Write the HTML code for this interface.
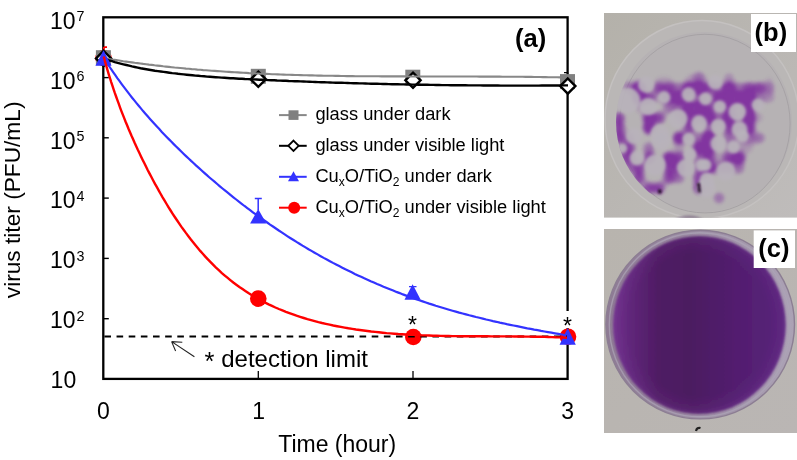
<!DOCTYPE html>
<html><head><meta charset="utf-8"><title>virus titer</title><style>
html,body{margin:0;padding:0;background:#fff;width:797px;height:460px;overflow:hidden}
svg{display:block;position:absolute;left:0;top:0;will-change:transform}
text{font-family:"Liberation Sans",sans-serif}
</style></head><body>
<svg width="797" height="460" viewBox="0 0 797 460">
<rect x="103.3" y="17.3" width="464.3" height="361.6" fill="none" stroke="#000" stroke-width="2.3"/>
<line x1="103" y1="77.6" x2="108.8" y2="77.6" stroke="#000" stroke-width="1.4"/>
<line x1="103" y1="137.8" x2="108.8" y2="137.8" stroke="#000" stroke-width="1.4"/>
<line x1="103" y1="198.1" x2="108.8" y2="198.1" stroke="#000" stroke-width="1.4"/>
<line x1="103" y1="258.4" x2="108.8" y2="258.4" stroke="#000" stroke-width="1.4"/>
<line x1="103" y1="318.7" x2="108.8" y2="318.7" stroke="#000" stroke-width="1.4"/>
<line x1="258.3" y1="379" x2="258.3" y2="371" stroke="#000" stroke-width="1.3"/>
<line x1="413.0" y1="379" x2="413.0" y2="371" stroke="#000" stroke-width="1.3"/>
<path d="M103.8,56 V47 M103.8,47.2 H107" stroke="#ff0000" stroke-width="1.8" fill="none"/>
<path d="M258.2,210 V198.4 M254.8,198.4 H261.8" stroke="#3333ff" stroke-width="1.5" fill="none"/>
<path d="M412.7,286 V286.7 M409,286.7 H416.5" stroke="#3333ff" stroke-width="1.3" fill="none"/>
<path d="M567.6,78 V72.6 M564,72.6 H567.6" stroke="#000" stroke-width="1.3" fill="none"/>
<circle cx="103.5" cy="58.0" r="8.3" fill="#ff0000"/>
<circle cx="258.3" cy="298.6" r="8.3" fill="#ff0000"/>
<circle cx="413.3" cy="337.0" r="8.3" fill="#ff0000"/>
<circle cx="568.0" cy="336.7" r="8.3" fill="#ff0000"/>
<rect x="95.9" y="50.2" width="15" height="15" fill="#808080"/>
<rect x="250.8" y="68.8" width="15" height="15" fill="#808080"/>
<rect x="405.3" y="69.7" width="15" height="15" fill="#808080"/>
<rect x="560.0" y="74.1" width="15" height="15" fill="#808080"/>
<polygon points="103.6,50.8 111.19999999999999,58.4 103.6,66.0 96.0,58.4" fill="#fff" stroke="#000" stroke-width="2.4"/>
<polygon points="258.3,71.7 265.90000000000003,79.3 258.3,86.89999999999999 250.70000000000002,79.3" fill="#fff" stroke="#000" stroke-width="2.4"/>
<polygon points="413.0,72.7 420.6,80.3 413.0,87.89999999999999 405.4,80.3" fill="#fff" stroke="#000" stroke-width="2.4"/>
<polygon points="567.8,78.5 575.4,86.1 567.8,93.69999999999999 560.1999999999999,86.1" fill="#fff" stroke="#000" stroke-width="2.4"/>
<path d="M103.5,58.1 L106.3,58.5 L109.1,59.0 L112.0,59.5 L114.8,59.9 L117.6,60.3 L120.5,60.7 L123.3,61.2 L126.2,61.6 L129.0,62.0 L131.8,62.4 L134.7,62.8 L137.5,63.1 L140.4,63.5 L143.2,63.9 L146.1,64.2 L148.9,64.6 L151.8,64.9 L154.6,65.3 L157.4,65.6 L160.3,65.9 L163.2,66.3 L166.0,66.6 L168.9,66.9 L171.7,67.2 L174.6,67.5 L177.4,67.7 L180.3,68.0 L183.1,68.3 L186.0,68.6 L188.8,68.8 L191.7,69.1 L194.6,69.3 L197.4,69.6 L200.3,69.8 L203.2,70.1 L206.0,70.3 L208.9,70.5 L211.7,70.7 L214.6,70.9 L217.5,71.1 L220.3,71.3 L223.2,71.5 L226.1,71.7 L228.9,71.9 L231.8,72.1 L234.7,72.3 L237.5,72.4 L240.4,72.6 L243.3,72.8 L246.2,72.9 L249.0,73.1 L251.9,73.2 L254.8,73.4 L257.6,73.5 L260.5,73.7 L263.4,73.8 L266.3,73.9 L269.1,74.0 L272.0,74.2 L274.9,74.3 L277.8,74.4 L280.7,74.5 L283.5,74.6 L286.4,74.7 L289.3,74.8 L292.2,74.9 L295.0,75.0 L297.9,75.0 L300.8,75.1 L303.7,75.2 L306.6,75.3 L309.4,75.4 L312.3,75.4 L315.2,75.5 L318.1,75.6 L321.0,75.6 L323.8,75.7 L326.7,75.7 L329.6,75.8 L332.5,75.8 L335.4,75.9 L338.3,75.9 L341.1,76.0 L344.0,76.0 L346.9,76.1 L349.8,76.1 L352.7,76.1 L355.6,76.2 L358.4,76.2 L361.3,76.2 L364.2,76.2 L367.1,76.3 L370.0,76.3 L372.9,76.3 L375.8,76.3 L378.6,76.3 L381.5,76.4 L384.4,76.4 L387.3,76.4 L390.2,76.4 L393.1,76.4 L395.9,76.4 L398.8,76.4 L401.7,76.4 L404.6,76.4 L407.5,76.5 L410.4,76.5 L413.3,76.5 L416.1,76.5 L419.0,76.5 L421.9,76.5 L424.8,76.5 L427.7,76.5 L430.6,76.5 L433.4,76.5 L436.3,76.5 L439.2,76.5 L442.1,76.5 L445.0,76.5 L447.9,76.5 L450.7,76.5 L453.6,76.5 L456.5,76.5 L459.4,76.5 L462.3,76.5 L465.1,76.5 L468.0,76.5 L470.9,76.5 L473.8,76.5 L476.7,76.5 L479.5,76.6 L482.4,76.6 L485.3,76.6 L488.2,76.6 L491.1,76.6 L493.9,76.6 L496.8,76.6 L499.7,76.6 L502.6,76.7 L505.4,76.7 L508.3,76.7 L511.2,76.7 L514.1,76.7 L516.9,76.8 L519.8,76.8 L522.7,76.8 L525.6,76.9 L528.4,76.9 L531.3,76.9 L534.2,77.0 L537.1,77.0 L539.9,77.0 L542.8,77.1 L545.7,77.1 L548.5,77.2 L551.4,77.2 L554.3,77.3 L557.1,77.3 L560.0,77.4" fill="none" stroke="#888" stroke-width="2.1"/>
<path d="M103.4,58.6 L106.3,59.5 L109.1,60.4 L112.0,61.2 L114.8,62.1 L117.7,62.9 L120.5,63.6 L123.4,64.3 L126.3,65.0 L129.1,65.7 L132.0,66.4 L134.8,67.0 L137.7,67.6 L140.6,68.2 L143.4,68.7 L146.3,69.2 L149.2,69.7 L152.1,70.2 L154.9,70.7 L157.8,71.1 L160.7,71.5 L163.6,71.9 L166.5,72.3 L169.4,72.7 L172.2,73.1 L175.1,73.4 L178.0,73.8 L180.9,74.1 L183.8,74.4 L186.7,74.7 L189.6,75.0 L192.5,75.3 L195.4,75.6 L198.3,75.8 L201.2,76.1 L204.1,76.3 L207.0,76.6 L209.9,76.8 L212.8,77.0 L215.7,77.2 L218.6,77.4 L221.6,77.6 L224.5,77.8 L227.4,78.0 L230.3,78.2 L233.2,78.3 L236.1,78.5 L239.1,78.7 L242.0,78.8 L244.9,79.0 L247.8,79.1 L250.7,79.3 L253.7,79.4 L256.6,79.5 L259.5,79.7 L262.4,79.8 L265.4,79.9 L268.3,80.1 L271.2,80.2 L274.2,80.3 L277.1,80.5 L280.0,80.6 L283.0,80.7 L285.9,80.8 L288.8,81.0 L291.8,81.1 L294.7,81.2 L297.6,81.3 L300.6,81.4 L303.5,81.5 L306.5,81.6 L309.4,81.7 L312.3,81.9 L315.3,82.0 L318.2,82.1 L321.2,82.2 L324.1,82.3 L327.1,82.4 L330.0,82.5 L332.9,82.6 L335.9,82.7 L338.8,82.8 L341.8,82.8 L344.7,82.9 L347.7,83.0 L350.6,83.1 L353.6,83.2 L356.5,83.3 L359.5,83.4 L362.4,83.4 L365.4,83.5 L368.3,83.6 L371.2,83.7 L374.2,83.8 L377.1,83.8 L380.1,83.9 L383.0,84.0 L386.0,84.0 L388.9,84.1 L391.9,84.2 L394.8,84.2 L397.8,84.3 L400.7,84.4 L403.7,84.4 L406.6,84.5 L409.6,84.5 L412.5,84.6 L415.5,84.6 L418.4,84.7 L421.4,84.7 L424.3,84.8 L427.3,84.8 L430.2,84.9 L433.2,84.9 L436.1,85.0 L439.1,85.0 L442.0,85.1 L444.9,85.1 L447.9,85.1 L450.8,85.2 L453.8,85.2 L456.7,85.2 L459.7,85.3 L462.6,85.3 L465.5,85.3 L468.5,85.4 L471.4,85.4 L474.4,85.4 L477.3,85.4 L480.2,85.4 L483.2,85.5 L486.1,85.5 L489.1,85.5 L492.0,85.5 L494.9,85.5 L497.9,85.5 L500.8,85.6 L503.7,85.6 L506.7,85.6 L509.6,85.6 L512.5,85.6 L515.4,85.6 L518.4,85.6 L521.3,85.6 L524.2,85.6 L527.2,85.6 L530.1,85.6 L533.0,85.6 L535.9,85.6 L538.8,85.6 L541.8,85.5 L544.7,85.5 L547.6,85.5 L550.5,85.5 L553.4,85.5 L556.4,85.5 L559.3,85.5 L562.2,85.4 L565.1,85.4 L568.0,85.4" fill="none" stroke="#000" stroke-width="2.4"/>
<polygon points="103.5,50.2 111.6,65.8 95.4,65.8" fill="#3333ff" />
<polygon points="258.2,209 266.3,223.5 250.1,223.5" fill="#3333ff" />
<polygon points="412.6,284.3 420.70000000000005,299.7 404.5,299.7" fill="#3333ff" />
<polygon points="567.7,328 575.8000000000001,344.7 559.6,344.7" fill="#3333ff" />
<line x1="104.4" y1="336.5" x2="567" y2="336.5" stroke="#000" stroke-width="2" stroke-dasharray="6.6 5.55"/>
<path d="M103.4,57.5 L105.4,60.5 L107.3,63.5 L109.3,66.5 L111.3,69.4 L113.3,72.3 L115.3,75.2 L117.3,78.1 L119.4,80.9 L121.5,83.8 L123.6,86.6 L125.7,89.4 L127.8,92.2 L129.9,94.9 L132.1,97.7 L134.3,100.4 L136.5,103.1 L138.7,105.8 L140.9,108.4 L143.1,111.1 L145.4,113.7 L147.7,116.3 L150.0,118.9 L152.3,121.5 L154.6,124.1 L156.9,126.6 L159.3,129.1 L161.6,131.7 L164.0,134.2 L166.4,136.7 L168.8,139.1 L171.2,141.6 L173.7,144.1 L176.1,146.5 L178.6,148.9 L181.0,151.3 L183.5,153.7 L186.0,156.1 L188.6,158.5 L191.1,160.9 L193.7,163.2 L196.2,165.6 L198.8,167.9 L201.4,170.3 L204.0,172.6 L206.6,174.9 L209.2,177.2 L211.9,179.5 L214.5,181.7 L217.2,184.0 L219.9,186.3 L222.5,188.5 L225.2,190.7 L228.0,192.9 L230.7,195.1 L233.4,197.3 L236.2,199.5 L238.9,201.7 L241.7,203.8 L244.5,206.0 L247.3,208.1 L250.1,210.2 L252.9,212.3 L255.8,214.4 L258.6,216.4 L261.5,218.5 L264.3,220.5 L267.2,222.5 L270.1,224.6 L273.0,226.5 L275.9,228.5 L278.8,230.5 L281.7,232.4 L284.7,234.4 L287.6,236.3 L290.6,238.2 L293.5,240.0 L296.5,241.9 L299.5,243.7 L302.5,245.6 L305.5,247.4 L308.5,249.2 L311.5,250.9 L314.6,252.7 L317.6,254.4 L320.7,256.2 L323.7,257.9 L326.8,259.5 L329.9,261.2 L333.0,262.9 L336.1,264.5 L339.2,266.1 L342.3,267.7 L345.4,269.3 L348.5,270.8 L351.7,272.3 L354.8,273.9 L358.0,275.4 L361.1,276.8 L364.3,278.3 L367.5,279.7 L370.7,281.2 L373.9,282.6 L377.1,284.0 L380.3,285.3 L383.5,286.7 L386.7,288.0 L389.9,289.3 L393.2,290.6 L396.4,291.9 L399.7,293.1 L402.9,294.4 L406.2,295.6 L409.4,296.8 L412.7,298.0 L416.0,299.1 L419.3,300.3 L422.6,301.4 L425.9,302.5 L429.2,303.6 L432.5,304.6 L435.8,305.7 L439.1,306.7 L442.5,307.7 L445.8,308.7 L449.1,309.7 L452.5,310.7 L455.8,311.6 L459.2,312.6 L462.6,313.5 L465.9,314.4 L469.3,315.3 L472.7,316.1 L476.0,317.0 L479.4,317.8 L482.8,318.6 L486.2,319.5 L489.6,320.3 L493.0,321.1 L496.4,321.8 L499.8,322.6 L503.3,323.3 L506.7,324.1 L510.1,324.8 L513.5,325.5 L517.0,326.2 L520.4,326.9 L523.8,327.6 L527.3,328.3 L530.7,328.9 L534.2,329.6 L537.6,330.2 L541.1,330.9 L544.5,331.5 L548.0,332.1 L551.4,332.7 L554.9,333.3 L558.4,333.9 L561.8,334.5 L565.3,335.1" fill="none" stroke="#3333ff" stroke-width="2.2"/>
<path d="M103.7,56.5 L104.7,60.2 L105.7,63.9 L106.8,67.6 L107.8,71.2 L108.9,74.8 L110.1,78.5 L111.2,82.1 L112.4,85.7 L113.6,89.3 L114.8,92.9 L116.1,96.5 L117.4,100.1 L118.7,103.7 L120.0,107.3 L121.3,110.8 L122.7,114.4 L124.1,117.9 L125.5,121.5 L127.0,125.0 L128.4,128.5 L129.9,132.0 L131.4,135.5 L133.0,139.0 L134.5,142.5 L136.1,146.0 L137.7,149.5 L139.4,153.0 L141.0,156.4 L142.7,159.9 L144.4,163.3 L146.1,166.8 L147.8,170.2 L149.6,173.6 L151.4,177.0 L153.2,180.5 L155.0,183.9 L156.9,187.2 L158.8,190.6 L160.7,194.0 L162.6,197.3 L164.6,200.6 L166.6,204.0 L168.6,207.3 L170.6,210.5 L172.7,213.8 L174.8,217.0 L177.0,220.2 L179.1,223.4 L181.3,226.6 L183.6,229.7 L185.9,232.9 L188.2,235.9 L190.5,239.0 L192.9,242.0 L195.3,245.0 L197.8,248.0 L200.2,250.9 L202.8,253.8 L205.3,256.6 L207.9,259.4 L210.6,262.2 L213.3,264.9 L216.0,267.6 L218.8,270.2 L221.6,272.8 L224.5,275.3 L227.4,277.7 L230.3,280.1 L233.3,282.5 L236.3,284.7 L239.4,287.0 L242.5,289.1 L245.7,291.2 L248.8,293.3 L252.0,295.3 L255.3,297.2 L258.6,299.1 L261.9,300.9 L265.2,302.6 L268.6,304.3 L272.0,305.9 L275.4,307.5 L278.9,309.0 L282.4,310.4 L285.9,311.8 L289.4,313.1 L293.0,314.4 L296.5,315.7 L300.1,316.8 L303.8,318.0 L307.4,319.1 L311.1,320.1 L314.7,321.1 L318.4,322.1 L322.1,323.0 L325.8,323.8 L329.6,324.7 L333.3,325.5 L337.1,326.2 L340.8,326.9 L344.6,327.6 L348.4,328.3 L352.2,328.9 L356.0,329.5 L359.8,330.0 L363.6,330.5 L367.4,331.0 L371.2,331.5 L375.1,331.9 L378.9,332.3 L382.7,332.7 L386.6,333.1 L390.4,333.4 L394.3,333.7 L398.2,334.0 L402.0,334.2 L405.9,334.5 L409.8,334.7 L413.6,334.9 L417.5,335.1 L421.4,335.3 L425.3,335.4 L429.2,335.5 L433.0,335.7 L436.9,335.8 L440.8,335.9 L444.7,336.0 L448.6,336.0 L452.5,336.1 L456.3,336.1 L460.2,336.2 L464.1,336.2 L468.0,336.3 L471.9,336.3 L475.7,336.3 L479.6,336.3 L483.5,336.3 L487.3,336.3 L491.2,336.4 L495.0,336.4 L498.9,336.4 L502.7,336.4 L506.6,336.4 L510.4,336.4 L514.2,336.5 L518.0,336.5 L521.9,336.5 L525.7,336.6 L529.5,336.6 L533.3,336.7 L537.0,336.7 L540.8,336.8 L544.6,336.9 L548.3,337.0 L552.1,337.1 L555.8,337.3 L559.5,337.4 L563.3,337.6 L567.0,337.7" fill="none" stroke="#ff0000" stroke-width="2.4"/>
<rect x="560" y="311" width="15" height="17" fill="#fff"/>
<text x="412.6" y="332.5" text-anchor="middle" font-size="23" style="font-family:'Liberation Sans', sans-serif">*</text>
<text x="567.6" y="333.6" text-anchor="middle" font-size="23" style="font-family:'Liberation Sans', sans-serif">*</text>
<text x="50" y="28.7" font-size="23" style="font-family:'Liberation Sans', sans-serif">10<tspan font-size="14.3" dy="-7.6" dx="0.8">7</tspan></text>
<text x="50" y="88.8" font-size="23" style="font-family:'Liberation Sans', sans-serif">10<tspan font-size="14.3" dy="-7.6" dx="0.8">6</tspan></text>
<text x="50" y="148.5" font-size="23" style="font-family:'Liberation Sans', sans-serif">10<tspan font-size="14.3" dy="-7.6" dx="0.8">5</tspan></text>
<text x="50" y="208.4" font-size="23" style="font-family:'Liberation Sans', sans-serif">10<tspan font-size="14.3" dy="-7.6" dx="0.8">4</tspan></text>
<text x="50" y="268.3" font-size="23" style="font-family:'Liberation Sans', sans-serif">10<tspan font-size="14.3" dy="-7.6" dx="0.8">3</tspan></text>
<text x="50" y="328.3" font-size="23" style="font-family:'Liberation Sans', sans-serif">10<tspan font-size="14.3" dy="-7.6" dx="0.8">2</tspan></text>
<text x="50.6" y="388" font-size="23" style="font-family:'Liberation Sans', sans-serif">10</text>
<text x="103.5" y="418.9" text-anchor="middle" font-size="23" style="font-family:'Liberation Sans', sans-serif">0</text>
<text x="258.6" y="418.9" text-anchor="middle" font-size="23" style="font-family:'Liberation Sans', sans-serif">1</text>
<text x="413" y="418.9" text-anchor="middle" font-size="23" style="font-family:'Liberation Sans', sans-serif">2</text>
<text x="567.6" y="418.9" text-anchor="middle" font-size="23" style="font-family:'Liberation Sans', sans-serif">3</text>
<text x="337.2" y="452.1" text-anchor="middle" font-size="23" style="font-family:'Liberation Sans', sans-serif">Time (hour)</text>
<text transform="translate(19.9,298.2) rotate(-90)" x="0" y="0" font-size="22.7" style="font-family:'Liberation Sans', sans-serif">virus titer (PFU/mL)</text>
<text x="515" y="47" font-size="25.5" font-weight="bold" style="font-family:'Liberation Sans', sans-serif">(a)</text>
<text x="204.6" y="366.8" font-size="24" style="font-family:'Liberation Sans', sans-serif"><tspan font-size="25.5" dy="2.8">*</tspan><tspan dy="-2.8"> detection limit</tspan></text>
<path d="M194.4,356.7 L171.6,341.6 M171.6,341.6 L182.3,342.2 M171.6,341.6 L175.6,351" stroke="#222" stroke-width="1.1" fill="none"/>
<line x1="279" y1="115.1" x2="306.7" y2="115.1" stroke="#888" stroke-width="2"/>
<line x1="279" y1="145.8" x2="306.7" y2="145.8" stroke="#000" stroke-width="2"/>
<line x1="279" y1="176.8" x2="306.7" y2="176.8" stroke="#3333ff" stroke-width="2"/>
<line x1="279" y1="207.7" x2="306.7" y2="207.7" stroke="#ff0000" stroke-width="2"/>
<rect x="288.5" y="110.3" width="10" height="9.6" fill="#808080"/>
<polygon points="293.5,140.60000000000002 298.7,145.8 293.5,151.0 288.3,145.8" fill="#fff" stroke="#000" stroke-width="1.8"/>
<polygon points="293.5,171.3 299.0,181.3 288.0,181.3" fill="#3333ff"/>
<circle cx="294.2" cy="207.7" r="6" fill="#ff0000"/>
<text x="315.4" y="120.3" font-size="18.3" style="font-family:'Liberation Sans', sans-serif">glass under dark</text>
<text x="315.4" y="151.0" font-size="18.3" style="font-family:'Liberation Sans', sans-serif">glass under visible light</text>
<text x="315.4" y="181.8" font-size="18.3" style="font-family:'Liberation Sans', sans-serif">Cu<tspan font-size="12" dy="4.6">x</tspan><tspan dy="-4.6">O/TiO</tspan><tspan font-size="12" dy="4.6">2</tspan><tspan dy="-4.6"> under dark</tspan></text>
<text x="315.4" y="212.6" font-size="18.3" style="font-family:'Liberation Sans', sans-serif">Cu<tspan font-size="12" dy="4.6">x</tspan><tspan dy="-4.6">O/TiO</tspan><tspan font-size="12" dy="4.6">2</tspan><tspan dy="-4.6"> under visible light</tspan></text>
<defs>
<filter id="blurB" x="-10%" y="-10%" width="120%" height="120%"><feGaussianBlur stdDeviation="2.6"/><feComponentTransfer><feFuncA type="linear" slope="1.7" intercept="-0.25"/></feComponentTransfer><feGaussianBlur stdDeviation="0.8"/></filter>
<filter id="blurP" x="-30%" y="-30%" width="160%" height="160%"><feGaussianBlur stdDeviation="1.6"/></filter>
<filter id="blur1" x="-20%" y="-20%" width="140%" height="140%"><feGaussianBlur stdDeviation="1.2"/></filter>
<clipPath id="clipB"><rect x="604" y="13" width="193" height="204.8"/></clipPath>
<clipPath id="clipC"><rect x="604" y="229" width="193" height="204"/></clipPath>
<clipPath id="agarB"><ellipse cx="704" cy="122" rx="88" ry="90"/></clipPath>
<linearGradient id="gC" x1="613" y1="0" x2="786" y2="0" gradientUnits="userSpaceOnUse">
<stop offset="0" stop-color="#6e2e8a"/><stop offset="0.1" stop-color="#60267a"/><stop offset="0.26" stop-color="#4f1c64"/><stop offset="0.45" stop-color="#4c1b61"/><stop offset="0.75" stop-color="#531f71"/><stop offset="1" stop-color="#58227a"/></linearGradient>
<radialGradient id="gC2" cx="699" cy="324.3" r="89" gradientTransform="translate(699 324.3) scale(0.98 1.0) translate(-699 -324.3)" gradientUnits="userSpaceOnUse">
<stop offset="0" stop-color="#8a4aa8" stop-opacity="0"/><stop offset="0.8" stop-color="#8a4aa8" stop-opacity="0"/><stop offset="0.94" stop-color="#8a4aa8" stop-opacity="0.12"/><stop offset="1" stop-color="#8a4aa8" stop-opacity="0.3"/></radialGradient>
<linearGradient id="rimC" x1="0" y1="0" x2="1" y2="0"><stop offset="0" stop-color="#8e7a94"/><stop offset="1" stop-color="#aca2b5"/></linearGradient>
<linearGradient id="bgB" x1="0" y1="0" x2="1" y2="1"><stop offset="0" stop-color="#b4b1aa"/><stop offset="1" stop-color="#bfbcbb"/></linearGradient>
<linearGradient id="bgC" x1="0" y1="0" x2="1" y2="1"><stop offset="0" stop-color="#b8b4ae"/><stop offset="1" stop-color="#bab6b4"/></linearGradient>
</defs>
<g clip-path="url(#clipB)">
<rect x="604" y="13" width="193" height="204.8" fill="url(#bgB)"/>
<ellipse cx="702" cy="119.5" rx="97" ry="99" fill="#bab7b6" stroke="#c4c1c0" stroke-width="1.5"/>
<ellipse cx="704" cy="122" rx="88" ry="90" fill="#b6b2b4"/>
<ellipse cx="704.9" cy="123.6" rx="85.2" ry="89.3" fill="none" stroke="#a6a2a5" stroke-width="1"/>
<g clip-path="url(#agarB)"><g filter="url(#blurB)">
<circle cx="649" cy="58" r="6.5" fill="#8236a0" fill-opacity="0.00"/>
<circle cx="659" cy="58" r="6.5" fill="#8236a0" fill-opacity="0.00"/>
<circle cx="689" cy="58" r="6.5" fill="#8236a0" fill-opacity="0.00"/>
<circle cx="699" cy="58" r="6.5" fill="#8236a0" fill-opacity="0.00"/>
<circle cx="729" cy="58" r="6.5" fill="#8236a0" fill-opacity="0.08"/>
<circle cx="689" cy="68" r="6.5" fill="#8236a0" fill-opacity="0.00"/>
<circle cx="699" cy="68" r="6.5" fill="#8236a0" fill-opacity="0.04"/>
<circle cx="739" cy="68" r="6.5" fill="#8236a0" fill-opacity="0.00"/>
<circle cx="729" cy="68" r="6.5" fill="#8236a0" fill-opacity="0.00"/>
<circle cx="619" cy="78" r="6.5" fill="#8236a0" fill-opacity="0.12"/>
<circle cx="629" cy="78" r="6.5" fill="#8236a0" fill-opacity="0.08"/>
<circle cx="639" cy="78" r="6.5" fill="#8236a0" fill-opacity="0.08"/>
<circle cx="659" cy="78" r="6.5" fill="#8236a0" fill-opacity="0.17"/>
<circle cx="669" cy="78" r="6.5" fill="#8236a0" fill-opacity="0.17"/>
<circle cx="679" cy="78" r="6.5" fill="#8236a0" fill-opacity="0.00"/>
<circle cx="689" cy="78" r="6.5" fill="#8236a0" fill-opacity="0.21"/>
<circle cx="699" cy="78" r="6.5" fill="#8236a0" fill-opacity="0.50"/>
<circle cx="709" cy="78" r="6.5" fill="#8236a0" fill-opacity="0.08"/>
<circle cx="719" cy="78" r="6.5" fill="#8236a0" fill-opacity="0.00"/>
<circle cx="729" cy="78" r="6.5" fill="#8236a0" fill-opacity="0.33"/>
<circle cx="739" cy="78" r="6.5" fill="#8236a0" fill-opacity="0.00"/>
<circle cx="759" cy="78" r="6.5" fill="#8236a0" fill-opacity="0.00"/>
<circle cx="769" cy="78" r="6.5" fill="#8236a0" fill-opacity="0.17"/>
<circle cx="779" cy="78" r="6.5" fill="#8236a0" fill-opacity="0.00"/>
<circle cx="619" cy="88" r="6.5" fill="#8236a0" fill-opacity="0.04"/>
<circle cx="629" cy="88" r="6.5" fill="#8236a0" fill-opacity="0.46"/>
<circle cx="639" cy="88" r="6.5" fill="#8236a0" fill-opacity="1.00"/>
<circle cx="649" cy="88" r="6.5" fill="#8236a0" fill-opacity="0.04"/>
<circle cx="659" cy="88" r="6.5" fill="#8236a0" fill-opacity="0.67"/>
<circle cx="669" cy="88" r="6.5" fill="#8236a0" fill-opacity="0.67"/>
<circle cx="679" cy="88" r="6.5" fill="#8236a0" fill-opacity="0.46"/>
<circle cx="689" cy="88" r="6.5" fill="#8236a0" fill-opacity="0.88"/>
<circle cx="699" cy="88" r="6.5" fill="#8236a0" fill-opacity="1.00"/>
<circle cx="709" cy="88" r="6.5" fill="#8236a0" fill-opacity="0.67"/>
<circle cx="719" cy="88" r="6.5" fill="#8236a0" fill-opacity="0.46"/>
<circle cx="729" cy="88" r="6.5" fill="#8236a0" fill-opacity="0.88"/>
<circle cx="739" cy="88" r="6.5" fill="#8236a0" fill-opacity="0.46"/>
<circle cx="749" cy="88" r="6.5" fill="#8236a0" fill-opacity="0.67"/>
<circle cx="759" cy="88" r="6.5" fill="#8236a0" fill-opacity="0.67"/>
<circle cx="769" cy="88" r="6.5" fill="#8236a0" fill-opacity="0.46"/>
<circle cx="779" cy="88" r="6.5" fill="#8236a0" fill-opacity="0.00"/>
<circle cx="629" cy="98" r="6.5" fill="#8236a0" fill-opacity="0.04"/>
<circle cx="639" cy="98" r="6.5" fill="#8236a0" fill-opacity="1.00"/>
<circle cx="649" cy="98" r="6.5" fill="#8236a0" fill-opacity="0.67"/>
<circle cx="659" cy="98" r="6.5" fill="#8236a0" fill-opacity="0.25"/>
<circle cx="669" cy="98" r="6.5" fill="#8236a0" fill-opacity="0.67"/>
<circle cx="679" cy="98" r="6.5" fill="#8236a0" fill-opacity="1.00"/>
<circle cx="689" cy="98" r="6.5" fill="#8236a0" fill-opacity="0.25"/>
<circle cx="699" cy="98" r="6.5" fill="#8236a0" fill-opacity="0.46"/>
<circle cx="709" cy="98" r="6.5" fill="#8236a0" fill-opacity="0.25"/>
<circle cx="719" cy="98" r="6.5" fill="#8236a0" fill-opacity="0.88"/>
<circle cx="729" cy="98" r="6.5" fill="#8236a0" fill-opacity="0.88"/>
<circle cx="739" cy="98" r="6.5" fill="#8236a0" fill-opacity="1.00"/>
<circle cx="749" cy="98" r="6.5" fill="#8236a0" fill-opacity="1.00"/>
<circle cx="759" cy="98" r="6.5" fill="#8236a0" fill-opacity="0.38"/>
<circle cx="769" cy="98" r="6.5" fill="#8236a0" fill-opacity="0.33"/>
<circle cx="779" cy="98" r="6.5" fill="#8236a0" fill-opacity="0.04"/>
<circle cx="629" cy="108" r="6.5" fill="#8236a0" fill-opacity="0.00"/>
<circle cx="639" cy="108" r="6.5" fill="#8236a0" fill-opacity="0.25"/>
<circle cx="659" cy="108" r="6.5" fill="#8236a0" fill-opacity="0.04"/>
<circle cx="669" cy="108" r="6.5" fill="#8236a0" fill-opacity="0.46"/>
<circle cx="679" cy="108" r="6.5" fill="#8236a0" fill-opacity="0.46"/>
<circle cx="689" cy="108" r="6.5" fill="#8236a0" fill-opacity="0.88"/>
<circle cx="699" cy="108" r="6.5" fill="#8236a0" fill-opacity="1.00"/>
<circle cx="709" cy="108" r="6.5" fill="#8236a0" fill-opacity="0.67"/>
<circle cx="719" cy="108" r="6.5" fill="#8236a0" fill-opacity="0.25"/>
<circle cx="729" cy="108" r="6.5" fill="#8236a0" fill-opacity="0.67"/>
<circle cx="739" cy="108" r="6.5" fill="#8236a0" fill-opacity="0.25"/>
<circle cx="749" cy="108" r="6.5" fill="#8236a0" fill-opacity="0.88"/>
<circle cx="759" cy="108" r="6.5" fill="#8236a0" fill-opacity="0.04"/>
<circle cx="619" cy="118" r="6.5" fill="#8236a0" fill-opacity="0.67"/>
<circle cx="629" cy="118" r="6.5" fill="#8236a0" fill-opacity="0.00"/>
<circle cx="639" cy="118" r="6.5" fill="#8236a0" fill-opacity="0.04"/>
<circle cx="649" cy="118" r="6.5" fill="#8236a0" fill-opacity="0.88"/>
<circle cx="659" cy="118" r="6.5" fill="#8236a0" fill-opacity="0.67"/>
<circle cx="669" cy="118" r="6.5" fill="#8236a0" fill-opacity="0.04"/>
<circle cx="679" cy="118" r="6.5" fill="#8236a0" fill-opacity="0.25"/>
<circle cx="689" cy="118" r="6.5" fill="#8236a0" fill-opacity="0.67"/>
<circle cx="699" cy="118" r="6.5" fill="#8236a0" fill-opacity="0.46"/>
<circle cx="709" cy="118" r="6.5" fill="#8236a0" fill-opacity="0.88"/>
<circle cx="719" cy="118" r="6.5" fill="#8236a0" fill-opacity="0.46"/>
<circle cx="729" cy="118" r="6.5" fill="#8236a0" fill-opacity="0.88"/>
<circle cx="739" cy="118" r="6.5" fill="#8236a0" fill-opacity="0.25"/>
<circle cx="749" cy="118" r="6.5" fill="#8236a0" fill-opacity="1.00"/>
<circle cx="759" cy="118" r="6.5" fill="#8236a0" fill-opacity="0.25"/>
<circle cx="619" cy="128" r="6.5" fill="#8236a0" fill-opacity="0.67"/>
<circle cx="629" cy="128" r="6.5" fill="#8236a0" fill-opacity="0.04"/>
<circle cx="639" cy="128" r="6.5" fill="#8236a0" fill-opacity="0.00"/>
<circle cx="649" cy="128" r="6.5" fill="#8236a0" fill-opacity="0.88"/>
<circle cx="659" cy="128" r="6.5" fill="#8236a0" fill-opacity="0.04"/>
<circle cx="679" cy="128" r="6.5" fill="#8236a0" fill-opacity="0.04"/>
<circle cx="689" cy="128" r="6.5" fill="#8236a0" fill-opacity="0.67"/>
<circle cx="699" cy="128" r="6.5" fill="#8236a0" fill-opacity="0.00"/>
<circle cx="709" cy="128" r="6.5" fill="#8236a0" fill-opacity="0.46"/>
<circle cx="719" cy="128" r="6.5" fill="#8236a0" fill-opacity="0.04"/>
<circle cx="729" cy="128" r="6.5" fill="#8236a0" fill-opacity="0.67"/>
<circle cx="739" cy="128" r="6.5" fill="#8236a0" fill-opacity="0.46"/>
<circle cx="749" cy="128" r="6.5" fill="#8236a0" fill-opacity="0.88"/>
<circle cx="759" cy="128" r="6.5" fill="#8236a0" fill-opacity="0.00"/>
<circle cx="619" cy="138" r="6.5" fill="#8236a0" fill-opacity="0.67"/>
<circle cx="629" cy="138" r="6.5" fill="#8236a0" fill-opacity="0.46"/>
<circle cx="649" cy="138" r="6.5" fill="#8236a0" fill-opacity="0.04"/>
<circle cx="679" cy="138" r="6.5" fill="#8236a0" fill-opacity="0.88"/>
<circle cx="689" cy="138" r="6.5" fill="#8236a0" fill-opacity="0.25"/>
<circle cx="699" cy="138" r="6.5" fill="#8236a0" fill-opacity="0.46"/>
<circle cx="709" cy="138" r="6.5" fill="#8236a0" fill-opacity="1.00"/>
<circle cx="719" cy="138" r="6.5" fill="#8236a0" fill-opacity="0.04"/>
<circle cx="729" cy="138" r="6.5" fill="#8236a0" fill-opacity="0.46"/>
<circle cx="739" cy="138" r="6.5" fill="#8236a0" fill-opacity="0.25"/>
<circle cx="749" cy="138" r="6.5" fill="#8236a0" fill-opacity="0.46"/>
<circle cx="759" cy="138" r="6.5" fill="#8236a0" fill-opacity="0.46"/>
<circle cx="769" cy="138" r="6.5" fill="#8236a0" fill-opacity="0.04"/>
<circle cx="619" cy="148" r="6.5" fill="#8236a0" fill-opacity="0.25"/>
<circle cx="629" cy="148" r="6.5" fill="#8236a0" fill-opacity="0.67"/>
<circle cx="639" cy="148" r="6.5" fill="#8236a0" fill-opacity="0.04"/>
<circle cx="649" cy="148" r="6.5" fill="#8236a0" fill-opacity="0.46"/>
<circle cx="659" cy="148" r="6.5" fill="#8236a0" fill-opacity="0.00"/>
<circle cx="669" cy="148" r="6.5" fill="#8236a0" fill-opacity="0.04"/>
<circle cx="679" cy="148" r="6.5" fill="#8236a0" fill-opacity="0.25"/>
<circle cx="689" cy="148" r="6.5" fill="#8236a0" fill-opacity="0.04"/>
<circle cx="699" cy="148" r="6.5" fill="#8236a0" fill-opacity="0.88"/>
<circle cx="709" cy="148" r="6.5" fill="#8236a0" fill-opacity="0.88"/>
<circle cx="719" cy="148" r="6.5" fill="#8236a0" fill-opacity="0.04"/>
<circle cx="729" cy="148" r="6.5" fill="#8236a0" fill-opacity="0.25"/>
<circle cx="739" cy="148" r="6.5" fill="#8236a0" fill-opacity="0.25"/>
<circle cx="749" cy="148" r="6.5" fill="#8236a0" fill-opacity="0.25"/>
<circle cx="759" cy="148" r="6.5" fill="#8236a0" fill-opacity="0.00"/>
<circle cx="619" cy="158" r="6.5" fill="#8236a0" fill-opacity="0.46"/>
<circle cx="629" cy="158" r="6.5" fill="#8236a0" fill-opacity="0.67"/>
<circle cx="639" cy="158" r="6.5" fill="#8236a0" fill-opacity="0.00"/>
<circle cx="649" cy="158" r="6.5" fill="#8236a0" fill-opacity="0.67"/>
<circle cx="659" cy="158" r="6.5" fill="#8236a0" fill-opacity="0.04"/>
<circle cx="669" cy="158" r="6.5" fill="#8236a0" fill-opacity="0.88"/>
<circle cx="679" cy="158" r="6.5" fill="#8236a0" fill-opacity="0.67"/>
<circle cx="689" cy="158" r="6.5" fill="#8236a0" fill-opacity="0.04"/>
<circle cx="699" cy="158" r="6.5" fill="#8236a0" fill-opacity="0.46"/>
<circle cx="709" cy="158" r="6.5" fill="#8236a0" fill-opacity="0.67"/>
<circle cx="719" cy="158" r="6.5" fill="#8236a0" fill-opacity="0.25"/>
<circle cx="729" cy="158" r="6.5" fill="#8236a0" fill-opacity="0.67"/>
<circle cx="739" cy="158" r="6.5" fill="#8236a0" fill-opacity="0.88"/>
<circle cx="749" cy="158" r="6.5" fill="#8236a0" fill-opacity="0.04"/>
<circle cx="629" cy="168" r="6.5" fill="#8236a0" fill-opacity="0.46"/>
<circle cx="639" cy="168" r="6.5" fill="#8236a0" fill-opacity="0.67"/>
<circle cx="649" cy="168" r="6.5" fill="#8236a0" fill-opacity="0.00"/>
<circle cx="669" cy="168" r="6.5" fill="#8236a0" fill-opacity="0.67"/>
<circle cx="679" cy="168" r="6.5" fill="#8236a0" fill-opacity="0.67"/>
<circle cx="689" cy="168" r="6.5" fill="#8236a0" fill-opacity="0.00"/>
<circle cx="699" cy="168" r="6.5" fill="#8236a0" fill-opacity="0.46"/>
<circle cx="709" cy="168" r="6.5" fill="#8236a0" fill-opacity="0.88"/>
<circle cx="719" cy="168" r="6.5" fill="#8236a0" fill-opacity="0.46"/>
<circle cx="729" cy="168" r="6.5" fill="#8236a0" fill-opacity="0.46"/>
<circle cx="739" cy="168" r="6.5" fill="#8236a0" fill-opacity="0.46"/>
<circle cx="749" cy="168" r="6.5" fill="#8236a0" fill-opacity="0.00"/>
<circle cx="629" cy="178" r="6.5" fill="#8236a0" fill-opacity="0.00"/>
<circle cx="639" cy="178" r="6.5" fill="#8236a0" fill-opacity="0.67"/>
<circle cx="669" cy="178" r="6.5" fill="#8236a0" fill-opacity="0.67"/>
<circle cx="679" cy="178" r="6.5" fill="#8236a0" fill-opacity="0.46"/>
<circle cx="699" cy="178" r="6.5" fill="#8236a0" fill-opacity="0.67"/>
<circle cx="709" cy="178" r="6.5" fill="#8236a0" fill-opacity="0.04"/>
<circle cx="719" cy="178" r="6.5" fill="#8236a0" fill-opacity="0.04"/>
<circle cx="729" cy="178" r="6.5" fill="#8236a0" fill-opacity="0.04"/>
<circle cx="739" cy="178" r="6.5" fill="#8236a0" fill-opacity="0.04"/>
<circle cx="649" cy="188" r="6.5" fill="#8236a0" fill-opacity="0.67"/>
<circle cx="659" cy="188" r="6.5" fill="#8236a0" fill-opacity="0.67"/>
<circle cx="699" cy="188" r="6.5" fill="#8236a0" fill-opacity="0.67"/>
<circle cx="709" cy="188" r="6.5" fill="#8236a0" fill-opacity="0.00"/>
<circle cx="719" cy="188" r="6.5" fill="#8236a0" fill-opacity="0.00"/>
<circle cx="729" cy="188" r="6.5" fill="#8236a0" fill-opacity="0.00"/>
<circle cx="649" cy="198" r="6.5" fill="#8236a0" fill-opacity="0.00"/>
<circle cx="659" cy="198" r="6.5" fill="#8236a0" fill-opacity="0.04"/>
<circle cx="699" cy="198" r="6.5" fill="#8236a0" fill-opacity="0.04"/>
<circle cx="709" cy="198" r="6.5" fill="#8236a0" fill-opacity="0.00"/>
<circle cx="719" cy="198" r="6.5" fill="#8236a0" fill-opacity="0.46"/>
</g>
<g filter="url(#blurP)">
<circle cx="646" cy="84.5" r="8.0" fill="#b9b2bb" fill-opacity="0.92"/>
<circle cx="648.2" cy="106.5" r="8.8" fill="#b9b2bb" fill-opacity="0.92"/>
<circle cx="664.2" cy="97.4" r="6.3" fill="#b9b2bb" fill-opacity="0.92"/>
<circle cx="688.6" cy="94.4" r="7.1" fill="#b9b2bb" fill-opacity="0.92"/>
<circle cx="705.3" cy="98.9" r="6.3" fill="#b9b2bb" fill-opacity="0.92"/>
<circle cx="678" cy="118.7" r="9.5" fill="#b9b2bb" fill-opacity="0.92"/>
<circle cx="699.2" cy="123.3" r="8.0" fill="#b9b2bb" fill-opacity="0.92"/>
<circle cx="627.7" cy="100.4" r="12.6" fill="#b9b2bb" fill-opacity="0.92"/>
<circle cx="659.7" cy="133.9" r="9.5" fill="#b9b2bb" fill-opacity="0.92"/>
<circle cx="719.8" cy="106.5" r="6.3" fill="#b9b2bb" fill-opacity="0.92"/>
<circle cx="737.3" cy="111.9" r="8.8" fill="#b9b2bb" fill-opacity="0.92"/>
<circle cx="715.3" cy="82.2" r="7.4" fill="#b9b2bb" fill-opacity="0.92"/>
<circle cx="757.9" cy="105" r="6.3" fill="#b9b2bb" fill-opacity="0.92"/>
<circle cx="718.3" cy="126.3" r="7.4" fill="#b9b2bb" fill-opacity="0.92"/>
<circle cx="739.6" cy="129.4" r="8.0" fill="#b9b2bb" fill-opacity="0.92"/>
<circle cx="622.4" cy="148.3" r="4.8" fill="#b9b2bb" fill-opacity="0.92"/>
<circle cx="636.8" cy="158.2" r="7.1" fill="#b9b2bb" fill-opacity="0.92"/>
<circle cx="655.1" cy="165" r="10.5" fill="#b9b2bb" fill-opacity="0.92"/>
<circle cx="633.8" cy="136" r="8.0" fill="#b9b2bb" fill-opacity="0.92"/>
<circle cx="661.2" cy="140.7" r="9.5" fill="#b9b2bb" fill-opacity="0.92"/>
<circle cx="685.5" cy="168" r="8.8" fill="#b9b2bb" fill-opacity="0.92"/>
<circle cx="690" cy="154.4" r="6.3" fill="#b9b2bb" fill-opacity="0.92"/>
<circle cx="688.6" cy="139" r="6.3" fill="#b9b2bb" fill-opacity="0.92"/>
<circle cx="705.3" cy="165" r="6.3" fill="#b9b2bb" fill-opacity="0.92"/>
<circle cx="706.8" cy="180.2" r="7.4" fill="#b9b2bb" fill-opacity="0.92"/>
<circle cx="718.3" cy="143.7" r="8.0" fill="#b9b2bb" fill-opacity="0.92"/>
<circle cx="733.5" cy="146.7" r="6.3" fill="#b9b2bb" fill-opacity="0.92"/>
<circle cx="742.7" cy="136" r="6.3" fill="#b9b2bb" fill-opacity="0.92"/>
<circle cx="701.6" cy="165" r="6.3" fill="#b9b2bb" fill-opacity="0.92"/>
<circle cx="725.9" cy="171" r="9.5" fill="#b9b2bb" fill-opacity="0.92"/>
<circle cx="706" cy="187.8" r="9.5" fill="#b9b2bb" fill-opacity="0.92"/>
</g>
<g filter="url(#blur1)"><path d="M697,183 L700,183 L701,193 L698,192 Z" fill="#2a1030"/><path d="M658,189 L662,190 L661,194 L658,193 Z" fill="#2a1030"/></g>
</g>
<ellipse cx="689" cy="233" rx="22" ry="17.5" fill="#7e6c86" fill-opacity="0.75" filter="url(#blur1)"/>
<rect x="751" y="14" width="45" height="38" fill="#fff"/>
<text x="770.9" y="40.5" text-anchor="middle" font-size="25.5" font-weight="bold" style="font-family:&quot;Liberation Sans&quot;,sans-serif">(b)</text>
</g>
<g clip-path="url(#clipC)">
<rect x="604" y="229" width="193" height="204" fill="url(#bgC)"/>
<circle cx="700.2" cy="324.6" r="94.3" fill="url(#rimC)" stroke="#8c7e93" stroke-width="1.4"/>
<ellipse cx="699.8" cy="324.8" rx="90.5" ry="92" fill="none" stroke="#ada4b6" stroke-width="1.4" stroke-opacity="0.7"/>
<g filter="url(#blur1)"><ellipse cx="699.4" cy="325" rx="86.3" ry="88.9" fill="url(#gC)"/>
<ellipse cx="699.4" cy="325" rx="86.3" ry="88.9" fill="url(#gC2)"/></g>
<rect x="753.7" y="230.4" width="41.3" height="37.6" fill="#fff"/>
<text x="773.9" y="257" text-anchor="middle" font-size="25.5" font-weight="bold" style="font-family:&quot;Liberation Sans&quot;,sans-serif">(c)</text>
<path d="M696,431 q1,-4 4.5,-3" stroke="#222" stroke-width="2.2" fill="none"/>
</g>
</svg>
</body></html>
